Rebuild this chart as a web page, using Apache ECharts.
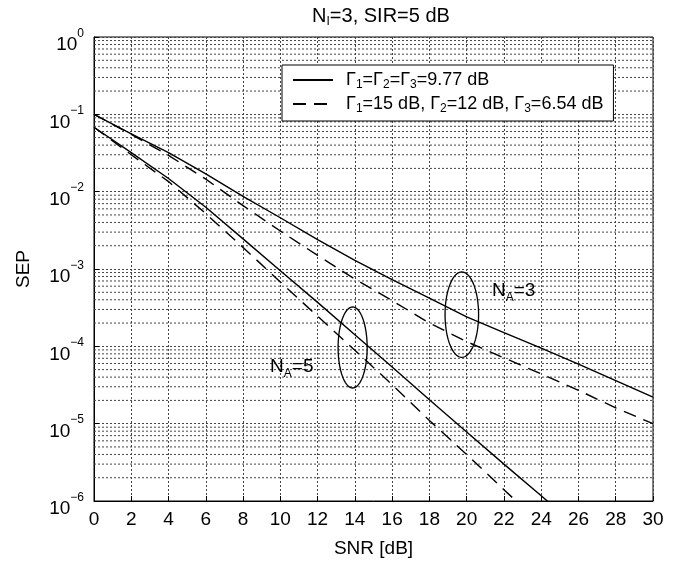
<!DOCTYPE html>
<html>
<head>
<meta charset="utf-8">
<script src="https://cdn.jsdelivr.net/npm/echarts@6/dist/echarts.min.js"></script>
<style>
  html, body { margin: 0; padding: 0; background: #fff; }
  #chart { width: 694px; height: 568px; }
</style>
</head>
<body>
<div id="chart"></div>
<script>
// SNR in dB
const snr = [0, 2, 4, 6, 8, 10, 12, 14, 16, 18, 20, 22, 24, 26, 28, 30]

// N_A = 3
const sepA3Equal = [0.1, 0.056, 0.032, 0.017, 0.0087, 0.0046, 0.0024, 0.00129, 7.3e-4, 4.2e-4, 2.4e-4, 1.5e-4, 9.5e-5, 5.9e-5, 3.6e-5, 2.2e-5]
const sepA3Unequal = [0.1, 0.055, 0.0295, 0.0145, 0.0066, 0.0031, 0.0015, 7.4e-4, 3.9e-4, 2.0e-4, 1.15e-4, 7.1e-5, 4.4e-5, 2.7e-5, 1.6e-5, 1.0e-5]
// N_A = 5 (goes below 1e-6 past ~24 dB)
const sepA5Equal = [0.068, 0.032, 0.0148, 0.0063, 0.00245, 9.5e-4, 3.7e-4, 1.41e-4, 5.4e-5, 2.04e-5, 7.8e-6, 3.0e-6, 1.17e-6, 4.5e-7]
const sepA5Unequal = [0.068, 0.030, 0.0135, 0.0052, 0.0019, 6.8e-4, 2.45e-4, 8.9e-5, 3.2e-5, 1.1e-5, 4.0e-6, 1.4e-6, 5.0e-7]

const nameEqual = 'Γ1=Γ2=Γ3=9.77 dB'
const nameUnequal = 'Γ1=15 dB, Γ2=12 dB, Γ3=6.54 dB'

// ellipse marks: [center snr, center sep, half width dB, half height decades]
const ellipses = [
  [19.74, 2.57e-4, 0.9, 0.553],
  [13.88, 9.66e-5, 0.78, 0.524],
]
// labels: [snr, sep, antenna count]
const naLabels = [
  [21.36, 5.19e-4, '3'],
  [9.45, 5.37e-5, '5'],
]

// minor grid lines 2..9 in every decade
let minorLines = []
for (let k = -6; k < 0; k++) {
  for (let m = 2; m <= 9; m++) {
    minorLines.push(m * Math.pow(10, k))
  }
}

const fontFamily = 'Liberation Sans, Arial, sans-serif'
const gridLine = { color: '#444', type: [2, 2], width: 1 }

function pairs(ys) {
  return ys.map((y, i) => [snr[i], y])
}

function subRich(name) {
  return '{g| }{n|' + name.replace(/Γ(\d)/g, 'Γ}{s|$1}{n|') + '}'
}

function richSub(size, subSize, drop) {
  return {
    n: { fontSize: size, lineHeight: size, verticalAlign: 'top', color: '#000', fontWeight: 'normal', fontFamily: fontFamily },
    s: { fontSize: subSize, lineHeight: subSize, padding: [drop, 0, 0, 0], verticalAlign: 'top', color: '#000', fontWeight: 'normal', fontFamily: fontFamily },
    g: { fontSize: size, lineHeight: size, width: 8, verticalAlign: 'top' },
  }
}

let chart = echarts.init(document.getElementById('chart'))
chart.setOption({
  animation: false,
  backgroundColor: '#fff',
  textStyle: { fontFamily: fontFamily, color: '#000' },
  title: {
    text: '{n|N}{s|I}{n|=3, SIR=5 dB}',
    left: 376,
    textAlign: 'center',
    top: 1,
    textStyle: { fontSize: 20, fontWeight: 'normal', color: '#000', rich: richSub(20, 12, 10) },
  },
  grid: {
    left: 94,
    right: 41,
    top: 37,
    bottom: 67,
    show: true,
    borderColor: '#000',
    borderWidth: 1,
  },
  legend: {
    data: [nameEqual, nameUnequal],
    orient: 'vertical',
    left: 282,
    top: 65,
    padding: [6, 10, 6, 10],
    itemGap: 4,
    itemWidth: 40,
    itemHeight: 14,
    backgroundColor: '#fff',
    borderColor: '#000',
    borderWidth: 1,
    itemStyle: { opacity: 0, color: 'rgba(0,0,0,0)', borderWidth: 0 },
    formatter: function (name) {
      return subRich(name)
    },
    textStyle: { rich: richSub(18, 12, 8) },
  },
  xAxis: {
    type: 'value',
    min: 0,
    max: 30,
    interval: 2,
    name: 'SNR [dB]',
    nameLocation: 'middle',
    nameGap: 38,
    nameTextStyle: { fontSize: 19, color: '#000' },
    axisLine: { lineStyle: { color: '#000' } },
    axisTick: { inside: true, length: 5, lineStyle: { color: '#000' } },
    axisLabel: { fontSize: 19, color: '#000', margin: 9 },
    splitLine: { show: true, lineStyle: gridLine },
  },
  yAxis: {
    type: 'log',
    logBase: 10,
    min: 1e-6,
    max: 1,
    name: 'SEP',
    nameLocation: 'middle',
    nameGap: 61,
    nameTextStyle: { fontSize: 19, color: '#000' },
    axisLine: { lineStyle: { color: '#000' } },
    axisTick: { inside: true, length: 5, lineStyle: { color: '#000' } },
    axisLabel: {
      margin: 10,
      formatter: function (v) {
        let e = Math.round(Math.log10(v))
        let es = e < 0 ? '−' + (-e) : '' + e
        return '{b|10}{e|' + es + '}'
      },
      rich: {
        b: { fontSize: 19, lineHeight: 19, padding: [8, 0, 6, 0], verticalAlign: 'top', color: '#000', fontFamily: fontFamily },
        e: { fontSize: 12, lineHeight: 12, verticalAlign: 'top', color: '#000', fontFamily: fontFamily },
      },
    },
    splitLine: { show: true, lineStyle: gridLine },
  },
  series: [
    {
      // minor horizontal grid lines
      type: 'custom',
      silent: true,
      z: 1,
      data: minorLines,
      renderItem: function (params, api) {
        let v = api.value(0)
        let p1 = api.coord([0, v])
        let p2 = api.coord([30, v])
        return {
          type: 'line',
          shape: { x1: p1[0], y1: p1[1], x2: p2[0], y2: p2[1] },
          style: { stroke: gridLine.color, lineWidth: 1, lineDash: gridLine.type },
        }
      },
      encode: { y: 0 },
    },
    {
      name: nameEqual,
      type: 'line',
      data: pairs(sepA3Equal),
      showSymbol: false,
      lineStyle: { color: '#000', width: 1.4, type: 'solid' },
      itemStyle: { color: '#000' },
      z: 3,
    },
    {
      name: nameUnequal,
      type: 'line',
      data: pairs(sepA3Unequal),
      showSymbol: false,
      lineStyle: { color: '#000', width: 1.4, type: [13, 8] },
      itemStyle: { color: '#000' },
      z: 3,
    },
    {
      name: nameEqual,
      type: 'line',
      data: pairs(sepA5Equal),
      showSymbol: false,
      lineStyle: { color: '#000', width: 1.4, type: 'solid' },
      itemStyle: { color: '#000' },
      z: 3,
    },
    {
      name: nameUnequal,
      type: 'line',
      data: pairs(sepA5Unequal),
      showSymbol: false,
      lineStyle: { color: '#000', width: 1.4, type: [13, 8] },
      itemStyle: { color: '#000' },
      z: 3,
    },
    {
      // the two ellipses grouping the curves
      type: 'custom',
      silent: true,
      z: 4,
      data: ellipses,
      renderItem: function (params, api) {
        let cx = api.value(0)
        let cy = Math.log10(api.value(1))
        let rx = api.value(2)
        let ry = api.value(3)
        let pts = []
        for (let i = 0; i < 72; i++) {
          let t = (i / 72) * Math.PI * 2
          pts.push(api.coord([cx + rx * Math.cos(t), Math.pow(10, cy + ry * Math.sin(t))]))
        }
        return {
          type: 'polygon',
          shape: { points: pts },
          style: { fill: 'none', stroke: '#000', lineWidth: 1.3 },
        }
      },
    },
    {
      type: 'scatter',
      silent: true,
      symbolSize: 0,
      data: naLabels,
      z: 4,
      itemStyle: { opacity: 1, color: '#000' },
      label: {
        show: true,
        position: 'right',
        distance: 0,
        color: '#000',
        formatter: function (p) {
          return '{n|N}{s|A}{n|=' + p.value[2] + '}'
        },
        rich: richSub(19, 12, 10),
      },
    },
  ],
})
</script>
</body>
</html>
